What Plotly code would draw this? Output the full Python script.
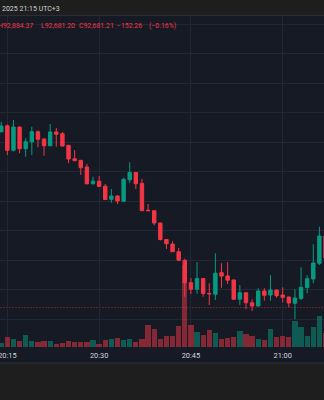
import plotly.graph_objects as go

# 1-minute BTC/USD bars, 20:14 - 21:07
day = "2025-12-05"
minutes = [
    "20:14", "20:15", "20:16", "20:17", "20:18", "20:19", "20:20", "20:21", "20:22",
    "20:23", "20:24", "20:25", "20:26", "20:27", "20:28", "20:29", "20:30", "20:31",
    "20:32", "20:33", "20:34", "20:35", "20:36", "20:37", "20:38", "20:39", "20:40",
    "20:41", "20:42", "20:43", "20:44", "20:45", "20:46", "20:47", "20:48", "20:49",
    "20:50", "20:51", "20:52", "20:53", "20:54", "20:55", "20:56", "20:57", "20:58",
    "20:59", "21:00", "21:01", "21:02", "21:03", "21:04", "21:05", "21:06", "21:07",
]
open_ = [
    93235.5, 93255.8, 93172.6, 93251.4, 93178.0, 93200.7, 93235.5, 93210.8, 93188.1,
    93234.5, 93228.7, 93189.5, 93144.1, 93138.7, 93116.1, 93059.5, 93068.0, 93051.1,
    93006.8, 93017.9, 93000.3, 93072.7, 93097.4, 93060.9, 92969.9, 92968.2, 92926.6,
    92870.7, 92855.5, 92829.4, 92800.3, 92724.5, 92702.5, 92738.7, 92688.0, 92685.6,
    92758.4, 92747.2, 92733.7, 92668.7, 92690.4, 92656.5, 92645.7, 92696.4, 92682.9,
    92699.8, 92682.9, 92676.1, 92654.8, 92671.1, 92708.3, 92737.1, 92790.2, 92882.6,
]
high = [
    93269.4, 93259.9, 93275.1, 93253.1, 93213.2, 93252.4, 93239.6, 93212.5, 93261.6,
    93248.0, 93234.5, 93190.5, 93173.6, 93139.7, 93126.2, 93083.2, 93085.6, 93058.5,
    93041.6, 93019.6, 93079.9, 93132.0, 93099.1, 93075.5, 92990.9, 92968.9, 92927.6,
    92871.4, 92864.6, 92842.0, 92805.7, 92740.4, 92794.6, 92740.4, 92722.5, 92824.0,
    92790.2, 92793.6, 92735.4, 92716.7, 92691.4, 92668.4, 92705.6, 92705.6, 92749.6,
    92700.8, 92709.0, 92677.2, 92702.2, 92776.6, 92749.9, 92854.5, 92914.0, 92884.3,
]
low = [
    93232.8, 93156.7, 93168.5, 93162.4, 93150.9, 93156.7, 93182.7, 93154.3, 93186.1,
    93184.8, 93185.4, 93128.6, 93136.4, 93089.0, 93057.5, 93056.8, 93048.4, 93005.4,
    92995.3, 92990.9, 92998.6, 93061.9, 93041.6, 92967.2, 92967.2, 92918.8, 92867.3,
    92838.6, 92828.4, 92799.7, 92677.2, 92686.3, 92687.3, 92677.2, 92649.1, 92666.0,
    92707.3, 92720.1, 92666.7, 92649.1, 92634.5, 92628.8, 92644.0, 92663.6, 92663.6,
    92673.8, 92657.5, 92641.3, 92600.7, 92666.0, 92688.7, 92722.5, 92784.4, 92794.6,
]
close = [
    93254.8, 93172.6, 93251.4, 93178.0, 93201.7, 93235.5, 93209.8, 93188.1, 93234.5,
    93226.7, 93187.1, 93143.1, 93137.4, 93113.7, 93059.5, 93068.0, 93050.1, 93006.1,
    93017.9, 93001.0, 93074.4, 93097.4, 93059.5, 92968.2, 92968.2, 92926.6, 92870.7,
    92856.5, 92829.4, 92800.3, 92724.5, 92702.5, 92738.7, 92688.0, 92687.0, 92756.7,
    92747.2, 92733.0, 92668.4, 92690.7, 92656.5, 92645.7, 92696.4, 92681.9, 92699.8,
    92680.5, 92675.1, 92655.8, 92672.8, 92709.0, 92738.1, 92791.2, 92882.6, 92808.1,
]
volume = [
    4.0, 9.9, 7.9, 6.0, 12.5, 5.9, 4.7, 6.0, 5.7,
    3.0, 4.5, 5.7, 5.0, 5.0, 5.0, 6.9, 3.5, 6.9,
    8.4, 8.7, 6.9, 7.9, 5.5, 7.7, 22.0, 17.7, 8.4,
    10.7, 10.7, 20.7, 82.4, 21.7, 14.7, 11.9, 17.4, 14.4,
    8.4, 9.0, 9.7, 15.7, 13.4, 10.9, 7.9, 7.4, 18.5,
    10.0, 10.7, 9.7, 26.5, 19.7, 11.0, 20.0, 30.9, 14.4,
]
last_price_line = 92640.0

header_time = "2025 21:15 UTC+3"
ohlc_parts = ["H92,884.37", "L92,681.20", "C92,681.21", "\u2212152.26", "(\u22120.16%)"]

UP = "#089981"
DOWN = "#f23645"
BG = "#161a25"
PANEL = "#1e1e1e"
GRID = "#232733"
TEXT = "#d1d4dc"
FONT = "Roboto"

W, H = 324, 400
TOP, BOTTOM = 16, 53

times = [f"{day} {m}" for m in minutes]
vol_colors = [
    "rgba(8,153,129,0.5)" if c >= o else "rgba(242,54,69,0.5)"
    for o, c in zip(open_, close)
]

fig = go.Figure()

fig.add_trace(go.Bar(
    x=times, y=volume, width=52000, marker=dict(color=vol_colors, line=dict(width=0)),
    yaxis="y", hoverinfo="skip", showlegend=False,
))
fig.add_trace(go.Candlestick(
    x=times, open=open_, high=high, low=low, close=close, yaxis="y2",
    increasing=dict(line=dict(color=UP, width=1), fillcolor=UP),
    decreasing=dict(line=dict(color=DOWN, width=1), fillcolor=DOWN),
    whiskerwidth=0, showlegend=False,
))

# current-price dotted line
fig.add_shape(type="line", xref="paper", x0=0, x1=1, yref="y2",
              y0=last_price_line, y1=last_price_line,
              line=dict(color="rgba(242,54,69,0.38)", width=1, dash="2px,1px"), layer="below")

plot_h = H - TOP - BOTTOM


def py(px):
    return (H - BOTTOM - px) / plot_h


# header panel and footer panel
fig.add_shape(type="rect", xref="paper", yref="paper", x0=0, x1=1, y0=py(16), y1=py(-2),
              fillcolor=PANEL, line=dict(width=0), layer="above")
fig.add_shape(type="line", xref="paper", yref="paper", x0=0, x1=1, y0=py(15.5), y1=py(15.5),
              line=dict(color="#2a2e39", width=1))
fig.add_shape(type="rect", xref="paper", yref="paper", x0=0, x1=1, y0=py(402), y1=py(363),
              fillcolor=PANEL, line=dict(width=0), layer="above")
fig.add_shape(type="line", xref="paper", yref="paper", x0=0, x1=1, y0=py(363), y1=py(363),
              line=dict(color="#2a2e39", width=1))

fig.add_annotation(text=header_time, xref="paper", yref="paper", x=0, y=py(9.3),
                   xanchor="left", yanchor="middle", showarrow=False,
                   font=dict(family=FONT, size=7.0, color=TEXT))

ohlc_x = [(34.5, "right"), (39.3, "left"), (77.3, "left"), (115.0, "left"), (146.7, "left")]
for txt, (px, anchor) in zip(ohlc_parts, ohlc_x):
    fig.add_annotation(text=txt, xref="paper", yref="paper", x=px / W, y=py(25.5),
                       xanchor=anchor, yanchor="middle", showarrow=False,
                       font=dict(family=FONT, size=6.9, color=DOWN))

fig.update_layout(
    width=W, height=H,
    margin=dict(l=0, r=0, t=TOP, b=BOTTOM, autoexpand=False),
    paper_bgcolor=BG, plot_bgcolor=BG,
    boxgap=0.2,
    bargap=0,
    showlegend=False,
    font=dict(family=FONT, color=TEXT),
    xaxis=dict(
        type="date",
        range=[f"{day} 20:13:48", f"{day} 21:06:45"],
        rangeslider=dict(visible=False),
        tickformat="%H:%M", dtick=15 * 60 * 1000, tick0=f"{day} 20:00",
        showgrid=True, gridcolor=GRID, gridwidth=1,
        zeroline=False, showline=False, ticks="",
        tickfont=dict(family=FONT, size=7.4, color=TEXT),
        ticklabelstandoff=3,
        ticklabeloverflow="allow",
        automargin=False,
    ),
    yaxis=dict(range=[0, plot_h], visible=False, fixedrange=True),
    yaxis2=dict(
        overlaying="y", side="right",
        range=[92506.9, 93627.1],
        dtick=100, tick0=0,
        showgrid=True, gridcolor=GRID, gridwidth=1,
        showticklabels=False, zeroline=False, showline=False, ticks="",
        automargin=False,
    ),
)

fig.write_html("out.html")
